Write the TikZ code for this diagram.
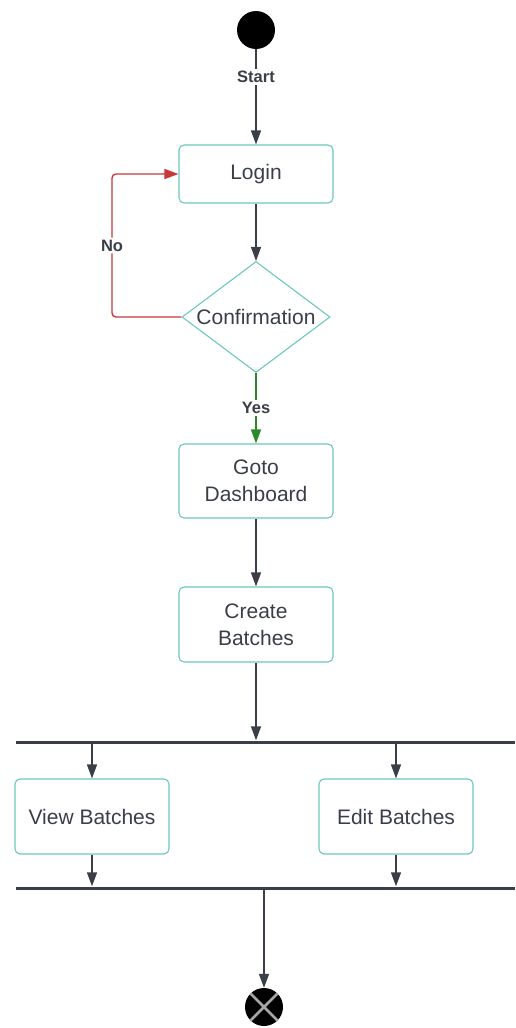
\documentclass[tikz,border=0pt]{standalone}
\usepackage{fontspec}
\setmainfont{Liberation Sans}
\usetikzlibrary{arrows.meta,shapes.geometric}
\definecolor{boxline}{HTML}{6CC8BB}
\definecolor{ink}{HTML}{3A3E47}
\definecolor{noline}{HTML}{C8383A}
\definecolor{yesline}{HTML}{2B8A2B}
\tikzset{
  activity/.style={draw=boxline, line width=1.1pt, rounded corners=5pt,
    minimum width=154pt, align=center, text=ink, inner sep=0pt,
    font=\fontsize{21}{27}\selectfont},
  decision/.style={diamond, draw=boxline, line width=1.1pt, aspect=1.33,
    minimum width=148pt, minimum height=111pt, inner sep=0pt, text=ink,
    font=\fontsize{21}{25}\selectfont},
  flow/.style={draw=ink, line width=1.4pt, -{Triangle[length=14pt,width=10pt]}},
  guard/.style={fill=white, text=ink, inner sep=2pt,
    font=\bfseries\fontsize{16.5}{18}\selectfont},
  syncbar/.style={fill=ink, minimum width=499pt, minimum height=3pt, inner sep=0pt},
}
\begin{document}
\begin{tikzpicture}[x=1pt,y=-1pt]
  \useasboundingbox (0,0) rectangle (515,1028);
  % nodes
  \node[circle, fill=black, minimum size=38pt, inner sep=0pt] (start) at (256,30) {};
  \node[activity, minimum height=58pt] (login) at (256,174) {Login};
  \node[decision] (confirm) at (256,317) {Confirmation};
  \node[activity, minimum height=74pt] (goto) at (256,481) {Goto\\Dashboard};
  \node[activity, minimum height=75pt] (create) at (256,624.5) {Create\\Batches};
  \node[syncbar] (fork) at (265.5,742) {};
  \node[activity, minimum height=75pt] (view) at (92,816.5) {View Batches};
  \node[activity, minimum height=75pt] (edit) at (396,816.5) {Edit Batches};
  \node[syncbar] (join) at (265.5,888) {};
  \node[circle, fill=black, minimum size=38pt, inner sep=0pt] (end) at (264,1007) {};
  \draw[gray!70, line width=2.5pt] (end.north west) -- (end.south east)
    (end.north east) -- (end.south west);
  \coordinate (noturn) at (112,317);
  % connectors
  \draw[flow] (start) -- node[guard, pos=0.29] {Start} (login);
  \draw[flow] (login) -- (confirm);
  \draw[flow, draw=noline, rounded corners=4pt,
    -{Triangle[length=14pt,width=10pt,fill=noline]}]
    (confirm.west) -- (noturn) |- node[guard, pos=0.25] {No} (login.west);
  \draw[flow, draw=yesline, -{Triangle[length=14pt,width=10pt,fill=yesline]}]
    (confirm.south) -- node[guard] {Yes} (goto.north);
  \draw[flow] (goto) -- (create);
  \draw[flow] (create.south) -- (create.south |- fork.north);
  \draw[flow] (fork.south -| view.north) -- (view.north);
  \draw[flow] (fork.south -| edit.north) -- (edit.north);
  \draw[flow] (view.south) -- (view.south |- join.north);
  \draw[flow] (edit.south) -- (edit.south |- join.north);
  \draw[flow] (join.south -| end.north) -- (end.north);
\end{tikzpicture}
\end{document}
